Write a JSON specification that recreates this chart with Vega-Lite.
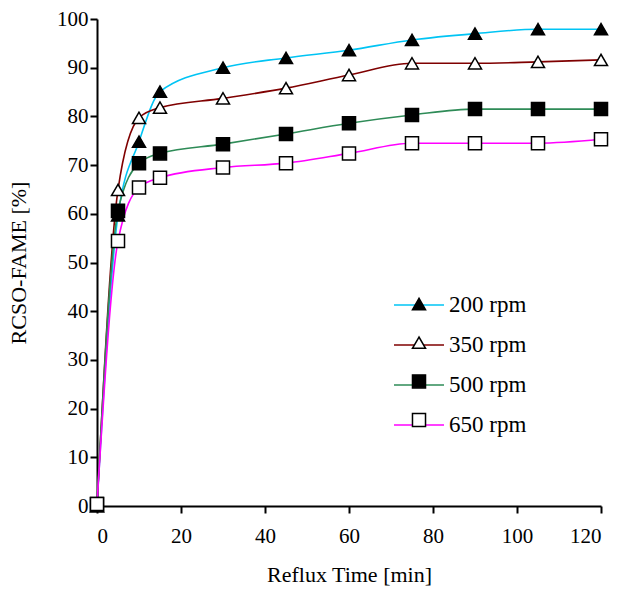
{
  "$schema": "https://vega.github.io/schema/vega-lite/v6.json",
  "width": 504,
  "height": 487,
  "autosize": "none",
  "padding": {"left": 97, "top": 19, "right": 22, "bottom": 87},
  "background": "white",
  "config": {
    "view": {"stroke": null},
    "font": "Liberation Serif",
    "axis": {"grid": false, "domainColor": "black", "domainWidth": 2, "tickColor": "black", "tickWidth": 2, "tickSize": 7, "labelFont": "Liberation Serif", "labelFontSize": 21, "labelColor": "black", "titleFont": "Liberation Serif", "titleFontSize": 22, "titleFontWeight": "normal", "titleColor": "black"}
  },
  "data": {"values": [
    {"t": 0, "y": 0, "s": "200 rpm"}, {"t": 5, "y": 59.7, "s": "200 rpm"}, {"t": 10, "y": 74.8, "s": "200 rpm"}, {"t": 15, "y": 85.1, "s": "200 rpm"}, {"t": 30, "y": 90.0, "s": "200 rpm"}, {"t": 45, "y": 92.0, "s": "200 rpm"}, {"t": 60, "y": 93.6, "s": "200 rpm"}, {"t": 75, "y": 95.7, "s": "200 rpm"}, {"t": 90, "y": 97.0, "s": "200 rpm"}, {"t": 105, "y": 97.9, "s": "200 rpm"}, {"t": 120, "y": 97.9, "s": "200 rpm"},
    {"t": 0, "y": 0, "s": "350 rpm"}, {"t": 5, "y": 64.9, "s": "350 rpm"}, {"t": 10, "y": 79.7, "s": "350 rpm"}, {"t": 15, "y": 81.8, "s": "350 rpm"}, {"t": 30, "y": 83.7, "s": "350 rpm"}, {"t": 45, "y": 85.8, "s": "350 rpm"}, {"t": 60, "y": 88.5, "s": "350 rpm"}, {"t": 75, "y": 90.9, "s": "350 rpm"}, {"t": 90, "y": 90.9, "s": "350 rpm"}, {"t": 105, "y": 91.2, "s": "350 rpm"}, {"t": 120, "y": 91.6, "s": "350 rpm"},
    {"t": 0, "y": 0.4, "s": "500 rpm"}, {"t": 5, "y": 60.6, "s": "500 rpm"}, {"t": 10, "y": 70.4, "s": "500 rpm"}, {"t": 15, "y": 72.4, "s": "500 rpm"}, {"t": 30, "y": 74.3, "s": "500 rpm"}, {"t": 45, "y": 76.4, "s": "500 rpm"}, {"t": 60, "y": 78.6, "s": "500 rpm"}, {"t": 75, "y": 80.3, "s": "500 rpm"}, {"t": 90, "y": 81.5, "s": "500 rpm"}, {"t": 105, "y": 81.5, "s": "500 rpm"}, {"t": 120, "y": 81.5, "s": "500 rpm"},
    {"t": 0, "y": 0.4, "s": "650 rpm"}, {"t": 5, "y": 54.4, "s": "650 rpm"}, {"t": 10, "y": 65.4, "s": "650 rpm"}, {"t": 15, "y": 67.4, "s": "650 rpm"}, {"t": 30, "y": 69.5, "s": "650 rpm"}, {"t": 45, "y": 70.4, "s": "650 rpm"}, {"t": 60, "y": 72.4, "s": "650 rpm"}, {"t": 75, "y": 74.5, "s": "650 rpm"}, {"t": 90, "y": 74.5, "s": "650 rpm"}, {"t": 105, "y": 74.5, "s": "650 rpm"}, {"t": 120, "y": 75.3, "s": "650 rpm"}
  ]},
  "encoding": {
    "x": {"field": "t", "type": "quantitative", "title": "Reflux Time [min]", "scale": {"domain": [0, 120], "nice": false}, "axis": {"values": [0, 20, 40, 60, 80, 100, 120], "labelPadding": 12, "titlePadding": 18}},
    "y": {"field": "y", "type": "quantitative", "title": "RCSO-FAME [%]", "scale": {"domain": [0, 100], "nice": false}, "axis": {"values": [0, 10, 20, 30, 40, 50, 60, 70, 80, 90, 100], "labelPadding": 2, "titlePadding": 26}}
  },
  "layer": [
    {
      "mark": {"type": "line", "interpolate": "monotone", "strokeWidth": 1.6},
      "encoding": {
        "stroke": {"field": "s", "type": "nominal", "scale": {"domain": ["200 rpm", "350 rpm", "500 rpm", "650 rpm"], "range": ["#00C4F4", "#7F0000", "#2E8B57", "#FF00FF"]},
          "legend": {"title": null, "orient": "none", "legendX": 296, "legendY": 260, "symbolType": "stroke", "symbolSize": 2500, "symbolStrokeWidth": 1.6, "labelFont": "Liberation Serif", "labelFontSize": 23, "labelColor": "black", "rowPadding": 2, "labelOffset": 4}}
      }
    },
    {
      "mark": {"type": "point", "filled": true, "stroke": "black", "strokeWidth": 1.5, "opacity": 1},
      "encoding": {
        "shape": {"field": "s", "type": "nominal", "scale": {"range": ["triangle-up", "triangle-up", "square", "square"]},
          "legend": {"title": null, "orient": "none", "legendX": 311, "legendY": 274, "labelExpr": "' '", "labelFontSize": 22, "rowPadding": 16.7, "gridAlign": "all", "encode": {"symbols": {"update": {"stroke": {"value": "black"}, "strokeWidth": {"value": 1.5}}}}}},
        "fill": {"field": "s", "type": "nominal", "scale": {"range": ["black", "white", "black", "white"]},
          "legend": {"title": null, "orient": "none", "legendX": 311, "legendY": 274, "labelExpr": "' '", "labelFontSize": 22, "rowPadding": 16.7, "gridAlign": "all", "encode": {"symbols": {"update": {"stroke": {"value": "black"}, "strokeWidth": {"value": 1.5}}}}}},
        "size": {"field": "s", "type": "nominal", "scale": {"range": [170, 170, 100, 100]},
          "legend": {"title": null, "orient": "none", "legendX": 311, "legendY": 274, "labelExpr": "' '", "labelFontSize": 22, "rowPadding": 16.7, "gridAlign": "all", "encode": {"symbols": {"update": {"stroke": {"value": "black"}, "strokeWidth": {"value": 1.5}}}}}}
      }
    }
  ]
}
